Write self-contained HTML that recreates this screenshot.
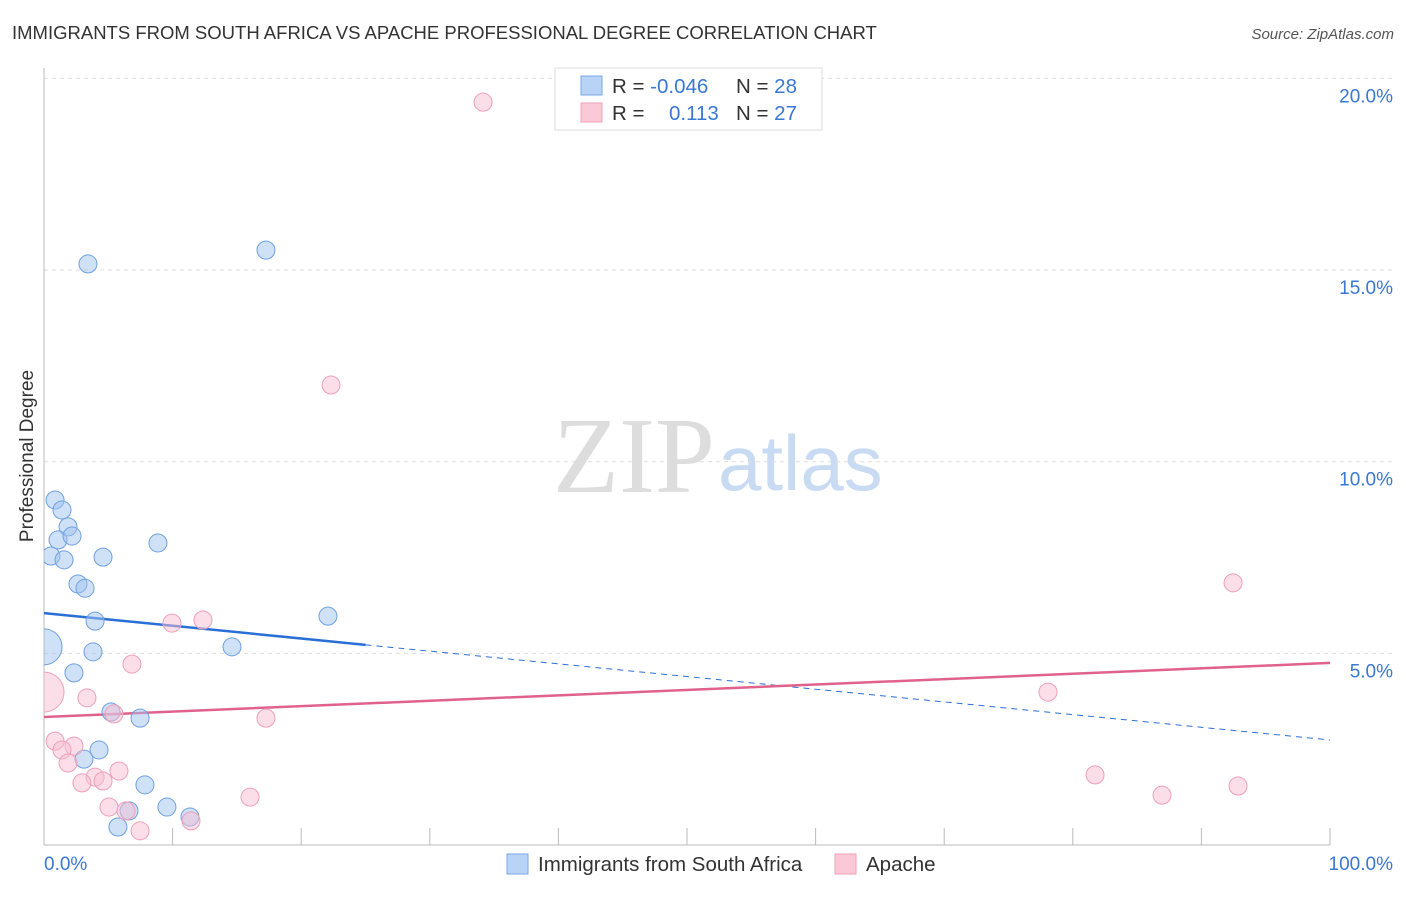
<!DOCTYPE html>
<html><head><meta charset="utf-8"><style>
body{margin:0;background:#fff;font-family:"Liberation Sans",sans-serif;}
</style></head><body>
<svg width="1406" height="892" xmlns="http://www.w3.org/2000/svg" font-family="Liberation Sans, sans-serif">
<defs><clipPath id="plotclip"><rect x="44" y="60" width="1360" height="785"/></clipPath></defs>
<text x="12" y="39" font-size="18.5" fill="#333">IMMIGRANTS FROM SOUTH AFRICA VS APACHE PROFESSIONAL DEGREE CORRELATION CHART</text>
<text x="1394" y="39" font-size="15" fill="#555" font-style="italic" text-anchor="end">Source: ZipAtlas.com</text>
<text x="553" y="492" font-size="108" fill="#ddd" font-family="Liberation Serif, serif">ZIP</text>
<text x="718" y="490" font-size="78" fill="#c9dbf2">atlas</text>
<g id="grid"></g>
<line x1="44" y1="68" x2="44" y2="845" stroke="#bbb"/>
<line x1="44" y1="845" x2="1330" y2="845" stroke="#bbb"/>
<g id="xticks"></g>
<text transform="translate(33,456) rotate(-90)" font-size="19" fill="#333" text-anchor="middle">Professional Degree</text>
<text x="44" y="870" font-size="19" fill="#3a78d4">0.0%</text>
<text x="1393" y="870" font-size="19" fill="#3a78d4" text-anchor="end">100.0%</text>
<g id="lines"></g>
<g id="points" clip-path="url(#plotclip)"></g>
<g>
<rect x="555" y="68" width="267" height="62" fill="#fff" stroke="#ddd"/>
<rect x="581" y="76" width="21" height="19" fill="#b8d3f5" stroke="#7aa7e6"/>
<rect x="581" y="103" width="21" height="19" fill="#fbc8d8" stroke="#f0a0b8"/>
<text x="612" y="93" font-size="20.5" fill="#333">R = <tspan fill="#3a78d4">-0.046</tspan><tspan x="736">N = </tspan><tspan fill="#3a78d4">28</tspan></text>
<text x="612" y="120" font-size="20.5" fill="#333">R = <tspan x="669" fill="#3a78d4">0.113</tspan><tspan x="736">N = </tspan><tspan fill="#3a78d4">27</tspan></text>
</g>
<g>
<rect x="507" y="854" width="21" height="20" fill="#b8d3f5" stroke="#7aa7e6"/>
<text x="538" y="871" font-size="20.5" fill="#333">Immigrants from South Africa</text>
<rect x="835" y="854" width="21" height="20" fill="#fbc8d8" stroke="#f0a0b8"/>
<text x="866" y="871" font-size="20.5" fill="#333">Apache</text>
</g>
</svg>
<script>
const yTicks=[5,10,15,20];
const yTickLabels=["5.0%","10.0%","15.0%","20.0%"];
const xTickVals=[0,10,20,30,40,50,60,70,80,90,100];
const blueX=[0.86,1.4,1.87,1.09,2.18,0.54,1.56,4.59,8.86,2.64,3.19,3.42,17.26,3.97,22.08,0,3.81,14.62,2.33,5.21,7.47,4.28,3.11,7.85,9.56,6.61,5.75,11.35];
const blueY=[9.0,8.74,8.30,7.96,8.06,7.54,7.44,7.51,7.88,6.81,6.70,15.16,15.52,5.84,5.97,5.17,5.04,5.17,4.49,3.47,3.31,2.48,2.24,1.57,0.99,0.89,0.47,0.73];
const blueR=[9,9,9,9,9,9,9,9,9,9,9,9,9,9,9,18,9,9,9,9,9,9,9,9,9,9,9,9];
const pinkX=[34.14,22.32,92.46,9.95,12.36,6.84,0,3.34,5.44,17.26,78.07,0.86,2.33,1.4,1.87,3.97,5.83,2.95,4.59,5.05,6.38,7.47,11.43,16.02,81.73,86.94,92.85];
const pinkY=[19.38,12.0,6.84,5.79,5.87,4.72,3.99,3.84,3.42,3.31,3.99,2.71,2.58,2.48,2.14,1.77,1.93,1.62,1.67,0.99,0.89,0.37,0.63,1.25,1.83,1.30,1.54];
const pinkR=[9,9,9,9,9,9,20,9,9,9,9,9,9,9,9,9,9,9,9,9,9,9,9,9,9,9,9];
const blueTrend=[6.05,2.74];
const pinkTrend=[3.34,4.75];
const sx=v=>44+v*12.86, sy=v=>845-v*38.33;
const NS="http://www.w3.org/2000/svg";
function mk(t,a,p){const e=document.createElementNS(NS,t);for(const k in a)e.setAttribute(k,a[k]);p.appendChild(e);return e;}
const grid=document.getElementById('grid');
yTicks.forEach((v,i)=>{
 const l=mk('line',{x1:44,x2:1392,y1:sy(v),y2:sy(v),stroke:'#ddd','stroke-dasharray':'4,4'},grid);
 
 
 const t=mk('text',{x:1393,y:sy(v)+24,'font-size':19,fill:'#3a78d4','text-anchor':'end'},grid);
 t.textContent=yTickLabels[i];
 
 
});
const xt=document.getElementById('xticks');
xTickVals.forEach(v=>{
 const l=mk('line',{x1:sx(v),x2:sx(v),y1:828,y2:845,stroke:'#bbb'},xt);
 
 
});
const lg=document.getElementById('lines');
const bx=25, by=blueTrend[0]+(blueTrend[1]-blueTrend[0])*bx/100;
let l1=mk('line',{x1:sx(0),y1:sy(blueTrend[0]),x2:sx(bx),y2:sy(by),stroke:'#2a6fd6','stroke-width':2.5},lg);


let l2=mk('line',{x1:sx(bx),y1:sy(by),x2:sx(100),y2:sy(blueTrend[1]),stroke:'#2a6fd6','stroke-width':1,'stroke-dasharray':'6,5'},lg);


let l3=mk('line',{x1:sx(0),y1:sy(pinkTrend[0]),x2:sx(100),y2:sy(pinkTrend[1]),stroke:'#e0628c','stroke-width':2.5},lg);


const pg=document.getElementById('points');
blueX.forEach((x,i)=>{
 const c=mk('circle',{cx:sx(x),cy:sy(blueY[i]),r:blueR[i],fill:'rgba(160,196,240,0.5)',stroke:'#6fa0e0','stroke-width':1},pg);
 
 
});
pinkX.forEach((x,i)=>{
 const c=mk('circle',{cx:sx(x),cy:sy(pinkY[i]),r:pinkR[i],fill:'rgba(248,190,210,0.5)',stroke:'#eea0b8','stroke-width':1},pg);
 
 
});
</script>
</body></html>
